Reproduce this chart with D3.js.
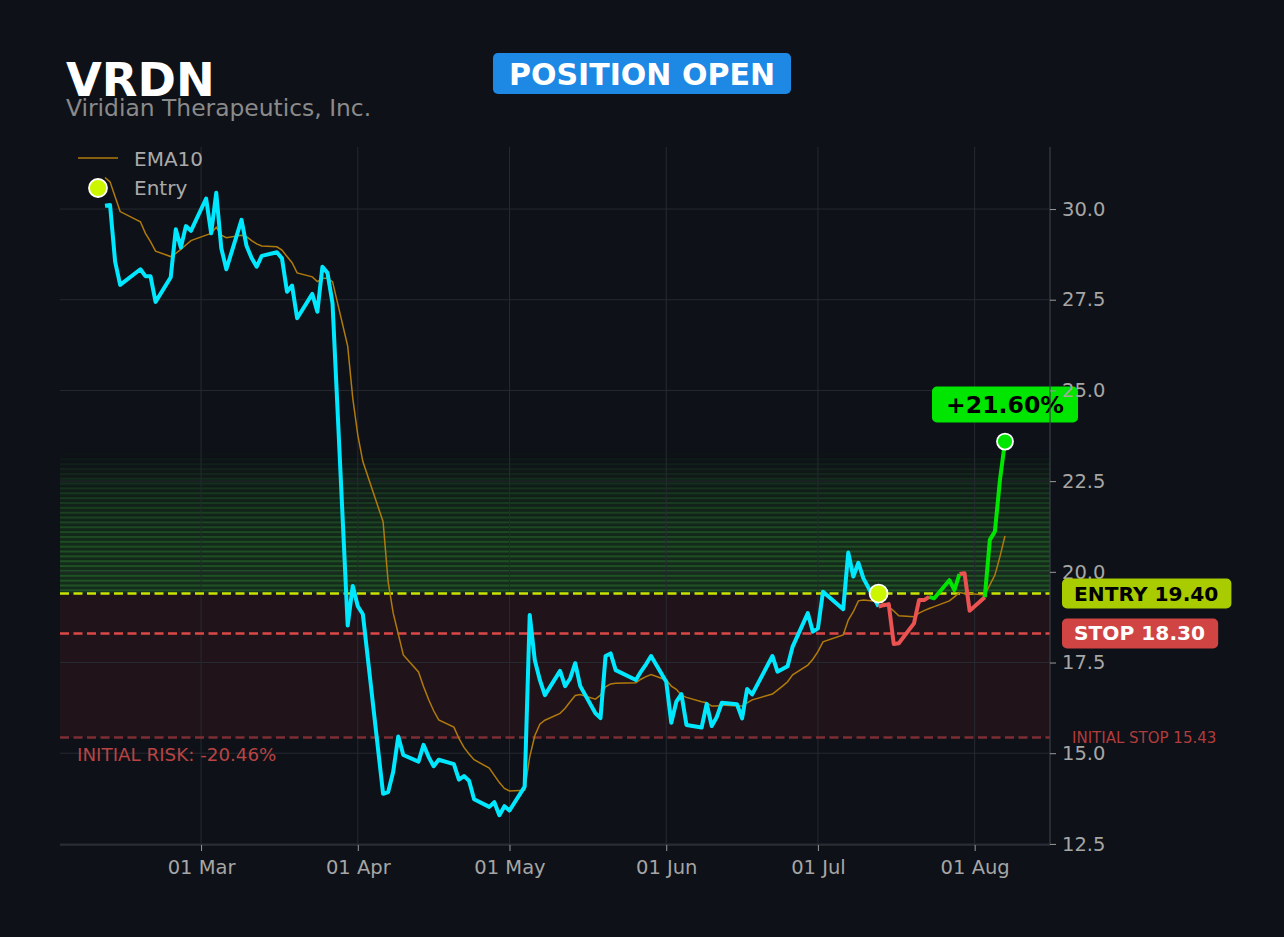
<!DOCTYPE html>
<html lang="en">
<head>
<meta charset="utf-8">
<title>VRDN - Position</title>
<script src="https://cdn.jsdelivr.net/npm/d3@7"></script>
<style>
  body { margin: 0; background: #0e1117; }
  svg { display: block; font-family: "DejaVu Sans", sans-serif; }
</style>
</head>
<body>
<script>
// ---- data ----
var ticker = "VRDN";
var company = "Viridian Therapeutics, Inc.";
var status = "POSITION OPEN";

var dates = [
  "2026-02-10","2026-02-11","2026-02-12","2026-02-13","2026-02-17","2026-02-18","2026-02-19","2026-02-20",
  "2026-02-23","2026-02-24","2026-02-25","2026-02-26","2026-02-27",
  "2026-03-02","2026-03-03","2026-03-04","2026-03-05","2026-03-06",
  "2026-03-09","2026-03-10","2026-03-11","2026-03-12","2026-03-13",
  "2026-03-16","2026-03-17","2026-03-18","2026-03-19","2026-03-20",
  "2026-03-23","2026-03-24","2026-03-25","2026-03-26","2026-03-27",
  "2026-03-30","2026-03-31","2026-04-01","2026-04-02",
  "2026-04-06","2026-04-07","2026-04-08","2026-04-09","2026-04-10",
  "2026-04-13","2026-04-14","2026-04-15","2026-04-16","2026-04-17",
  "2026-04-20","2026-04-21","2026-04-22","2026-04-23","2026-04-24",
  "2026-04-27","2026-04-28","2026-04-29","2026-04-30","2026-05-01",
  "2026-05-04","2026-05-05","2026-05-06","2026-05-07","2026-05-08",
  "2026-05-11","2026-05-12","2026-05-13","2026-05-14","2026-05-15",
  "2026-05-18","2026-05-19","2026-05-20","2026-05-21","2026-05-22",
  "2026-05-26","2026-05-27","2026-05-28","2026-05-29",
  "2026-06-01","2026-06-02","2026-06-03","2026-06-04","2026-06-05",
  "2026-06-08","2026-06-09","2026-06-10","2026-06-11","2026-06-12",
  "2026-06-15","2026-06-16","2026-06-17","2026-06-18",
  "2026-06-22","2026-06-23","2026-06-24","2026-06-25","2026-06-26",
  "2026-06-29","2026-06-30","2026-07-01","2026-07-02",
  "2026-07-06","2026-07-07","2026-07-08","2026-07-09","2026-07-10",
  "2026-07-13","2026-07-14","2026-07-15","2026-07-16","2026-07-17",
  "2026-07-20","2026-07-21","2026-07-22","2026-07-23","2026-07-24",
  "2026-07-27","2026-07-28","2026-07-29","2026-07-30","2026-07-31",
  "2026-08-03","2026-08-04","2026-08-05","2026-08-06","2026-08-07"
];

var closes = [
  30.09,30.11,28.55,27.91,28.34,28.15,28.15,27.44,
  28.12,29.44,28.94,29.53,29.40,
  30.29,29.33,30.45,28.92,28.34,
  29.70,28.98,28.65,28.41,28.71,
  28.81,28.64,27.72,27.89,26.99,
  27.66,27.17,28.41,28.24,27.40,
  18.52,19.61,19.05,18.83,
  13.88,13.93,14.49,15.46,14.95,
  14.77,15.23,14.90,14.64,14.82,
  14.70,14.27,14.37,14.24,13.73,
  13.52,13.65,13.29,13.54,13.42,
  14.08,18.81,17.57,17.02,16.60,
  17.27,16.85,17.06,17.48,16.85,
  16.10,15.97,17.68,17.75,17.29,
  17.02,17.25,17.45,17.68,
  16.97,15.84,16.42,16.63,15.78,
  15.71,16.36,15.75,16.00,16.39,
  16.35,15.96,16.77,16.62,
  17.68,17.25,17.32,17.40,17.94,
  18.86,18.35,18.44,19.45,
  18.97,20.53,19.87,20.25,19.82,
  19.04,19.08,19.11,18.01,18.03,
  18.58,19.22,19.22,19.31,19.27,
  19.77,19.50,19.94,19.96,18.93,
  19.30,20.88,21.11,22.53,23.59
];

var ema10 = [
  30.87,30.75,30.34,29.93,29.65,29.33,29.10,28.84,
  28.69,28.78,28.89,29.01,29.13,
  29.28,29.33,29.50,29.28,29.21,
  29.28,29.24,29.13,29.04,28.98,
  28.96,28.87,28.69,28.52,28.24,
  28.13,28.00,28.09,28.09,28.00,
  26.22,24.79,23.77,23.04,
  21.38,19.72,18.86,18.29,17.71,
  17.24,16.84,16.48,16.17,15.92,
  15.72,15.41,15.16,14.98,14.82,
  14.59,14.39,14.19,14.03,13.96,
  13.98,14.90,15.48,15.80,15.91,
  16.10,16.24,16.42,16.59,16.62,
  16.49,16.60,16.83,16.91,16.93,
  16.94,17.04,17.11,17.17,
  17.02,16.85,16.76,16.60,16.54,
  16.42,16.39,16.30,16.30,16.33,
  16.30,16.30,16.39,16.47,
  16.63,16.74,16.85,16.97,17.16,
  17.43,17.59,17.80,18.07,
  18.26,18.67,18.90,19.20,19.22,
  19.18,19.13,19.04,18.92,18.79,
  18.76,18.86,18.93,18.99,19.04,
  19.20,19.31,19.43,19.40,19.40,
  19.36,19.64,19.91,20.42,20.99
];

// trade segment colours after entry, one per day (segment ending on that day)
var tradeDates  = ["2026-07-14","2026-07-15","2026-07-16","2026-07-17","2026-07-20","2026-07-21","2026-07-22","2026-07-23","2026-07-24",
                   "2026-07-27","2026-07-28","2026-07-29","2026-07-30","2026-07-31","2026-08-03","2026-08-04","2026-08-05","2026-08-06","2026-08-07"];
var tradeStates = ["down","down","down","down","down","down","down","down","up",
                   "up","up","up","down","down","down","up","up","up","up"];

var entryDate = "2026-07-13";
var entryPrice = 19.40;
var stopPrice = 18.30;
var initialStop = 15.43;
var targetZoneTop = 23.28;
var gainLabel = "+21.60%";
var riskLabel = "INITIAL RISK: -20.46%";

var yTicks = [12.5, 15, 17.5, 20, 22.5, 25, 27.5, 30];
var xTicks = ["2026-03-01","2026-04-01","2026-05-01","2026-06-01","2026-07-01","2026-08-01"];

// ---- layout ----
var W = 1284, H = 937;
var margin = { top: 147, right: 234, bottom: 92, left: 60 };
var width = W - margin.left - margin.right,
    height = H - margin.top - margin.bottom;

var parse = d3.utcParse("%Y-%m-%d");
var fmt = d3.utcFormat("%d %b");

var series = dates.map(function(d, i) {
  return { date: parse(d), close: closes[i], ema: ema10[i] };
});

var ext = d3.extent(series, function(d) { return d.date; });
var pad = (ext[1] - ext[0]) * 0.05;

var x = d3.scaleUtc()
  .domain([new Date(+ext[0] - pad), new Date(+ext[1] + pad)])
  .range([0, width]);

var y = d3.scaleLinear()
  .domain([12.47, 31.71])
  .range([height, 0]);

var svg = d3.select("body").append("svg")
  .attr("width", W).attr("height", H);

svg.append("rect").attr("width", W).attr("height", H).attr("fill", "#0e1117");

var g = svg.append("g")
  .attr("transform", "translate(" + margin.left + "," + margin.top + ")");

// zones
g.append("rect")
  .attr("x", 0).attr("width", width)
  .attr("y", y(entryPrice)).attr("height", y(initialStop) - y(entryPrice))
  .attr("fill", "rgb(200,50,60)").attr("fill-opacity", 0.1);

// striped green zone above entry, fading upward
var nBands = 29;
var bandH = (y(entryPrice) - y(targetZoneTop)) / nBands;
d3.range(nBands).forEach(function(i) {
  var t = i / nBands;
  var f = 1 - t * t;
  var top = y(entryPrice) - (i + 1) * bandH;
  g.append("rect")
    .attr("x", 0).attr("width", width)
    .attr("y", top).attr("height", bandH)
    .attr("fill", "rgb(50,160,50)").attr("fill-opacity", 0.2 * f);
  g.append("rect")
    .attr("x", 0).attr("width", width)
    .attr("y", top + 0.6).attr("height", 2)
    .attr("fill", "rgb(60,170,60)").attr("fill-opacity", 0.3 * f);
});

// grid
g.append("g").selectAll("line").data(yTicks).enter().append("line")
  .attr("x1", 0).attr("x2", width)
  .attr("y1", function(d) { return y(d); }).attr("y2", function(d) { return y(d); })
  .attr("stroke", "#262a31").attr("stroke-width", 1);
g.append("g").selectAll("line").data(xTicks).enter().append("line")
  .attr("y1", 0).attr("y2", height)
  .attr("x1", function(d) { return x(parse(d)); }).attr("x2", function(d) { return x(parse(d)); })
  .attr("stroke", "#262a31").attr("stroke-width", 1);

// level lines
function hline(v, color, dash) {
  g.append("line")
    .attr("x1", 0).attr("x2", width)
    .attr("y1", y(v)).attr("y2", y(v))
    .attr("stroke", color).attr("stroke-width", 2.5)
    .attr("stroke-dasharray", dash);
}
hline(initialStop, "#7e2e33", "9,4.5");
hline(stopPrice, "#dc4848", "9,4.5");
hline(entryPrice, "#c8e400", "9,4.5");

// EMA
var line = d3.line()
  .x(function(d) { return x(d.date); });

g.append("path")
  .datum(series)
  .attr("fill", "none")
  .attr("stroke", "#b07a0c")
  .attr("stroke-width", 1.5)
  .attr("d", line.y(function(d) { return y(d.ema); }));

// price before entry
var entryT = parse(entryDate);
var before = series.filter(function(d) { return d.date <= entryT; });
g.append("path")
  .datum(before)
  .attr("fill", "none")
  .attr("stroke", "#00e8ff")
  .attr("stroke-width", 4)
  .attr("stroke-linejoin", "round")
  .attr("d", line.y(function(d) { return y(d.close); }));

// price after entry, coloured runs
var stateColor = { up: "#00e600", down: "#eb5252" };
var byDate = {};
series.forEach(function(d, i) { byDate[dates[i]] = i; });
var runs = [];
tradeDates.forEach(function(td, k) {
  var i = byDate[td];
  var st = tradeStates[k];
  var last = runs[runs.length - 1];
  if (!last || last.state !== st) {
    runs.push({ state: st, pts: [series[i - 1], series[i]] });
  } else {
    last.pts.push(series[i]);
  }
});
runs.forEach(function(r) {
  g.append("path")
    .datum(r.pts)
    .attr("fill", "none")
    .attr("stroke", stateColor[r.state])
    .attr("stroke-width", 4)
    .attr("stroke-linejoin", "round")
    .attr("d", line.y(function(d) { return y(d.close); }));
});

// entry marker
g.append("circle")
  .attr("cx", x(entryT)).attr("cy", y(entryPrice)).attr("r", 9)
  .attr("fill", "#ccf500").attr("stroke", "#fff").attr("stroke-width", 1.8);

// current marker + gain label
var lastPt = series[series.length - 1];
g.append("circle")
  .attr("cx", x(lastPt.date)).attr("cy", y(lastPt.close)).attr("r", 8)
  .attr("fill", "#00e600").attr("stroke", "#fff").attr("stroke-width", 1.8);

var gainG = g.append("g");
var gainText = gainG.append("text")
  .attr("x", x(lastPt.date)).attr("y", y(lastPt.close) - 37)
  .attr("text-anchor", "middle").attr("dominant-baseline", "central")
  .attr("font-size", "23.6px").attr("font-weight", "bold")
  .attr("fill", "#000").text(gainLabel);
var gb = gainText.node().getBBox();
gainG.insert("rect", "text")
  .attr("x", gb.x - 14).attr("y", y(lastPt.close) - 37 - 18)
  .attr("width", gb.width + 28).attr("height", 36)
  .attr("rx", 5).attr("fill", "#00e600");

// spines
g.append("line").attr("x1", width).attr("x2", width).attr("y1", 0).attr("y2", height)
  .attr("stroke", "#3a3e46").attr("stroke-width", 1.2);
g.append("line").attr("x1", 0).attr("x2", width).attr("y1", height).attr("y2", height)
  .attr("stroke", "#3a3e46").attr("stroke-width", 1.2);

// y axis (right)
var yAxis = g.append("g").attr("transform", "translate(" + width + ",0)")
  .call(d3.axisRight(y).tickValues(yTicks).tickFormat(d3.format(".1f")).tickSize(6).tickPadding(6));
yAxis.select(".domain").remove();
yAxis.selectAll("line").attr("stroke", "#9a9a9a");
yAxis.selectAll("text").attr("fill", "#a6a6a6").attr("font-size", "19.5px")
  .attr("font-family", "DejaVu Sans");

// x axis
var xAxis = g.append("g").attr("transform", "translate(0," + height + ")")
  .call(d3.axisBottom(x).tickValues(xTicks.map(parse)).tickFormat(fmt).tickSize(6).tickPadding(9));
xAxis.select(".domain").remove();
xAxis.selectAll("line").attr("stroke", "#9a9a9a");
xAxis.selectAll("text").attr("fill", "#a6a6a6").attr("font-size", "19.5px")
  .attr("font-family", "DejaVu Sans");

// right-side level labels
function levelTag(v, label, bg, fg) {
  var tg = g.append("g");
  var t = tg.append("text")
    .attr("x", width + 24).attr("y", y(v))
    .attr("dominant-baseline", "central")
    .attr("font-size", "20.2px").attr("font-weight", "bold")
    .attr("fill", fg).text(label);
  var b = t.node().getBBox();
  tg.insert("rect", "text")
    .attr("x", width + 12).attr("y", y(v) - 15)
    .attr("width", b.width + 25).attr("height", 30)
    .attr("rx", 5).attr("fill", bg);
}
levelTag(entryPrice, "ENTRY " + entryPrice.toFixed(2), "#a8cc00", "#000");
levelTag(stopPrice, "STOP " + stopPrice.toFixed(2), "#d04444", "#fff");

g.append("text")
  .attr("x", width + 22).attr("y", y(initialStop))
  .attr("dominant-baseline", "central")
  .attr("font-size", "15px").attr("fill", "#b23c3c")
  .text("INITIAL STOP " + initialStop.toFixed(2));

g.append("text")
  .attr("x", 17).attr("y", y(initialStop) + 17)
  .attr("dominant-baseline", "central")
  .attr("font-size", "18.3px").attr("fill", "#b84444")
  .text(riskLabel);

// legend
var leg = g.append("g");
leg.append("line").attr("x1", 18).attr("x2", 58).attr("y1", 11).attr("y2", 11)
  .attr("stroke", "#b07a0c").attr("stroke-width", 1.5);
leg.append("text").attr("x", 74).attr("y", 12).attr("dominant-baseline", "central")
  .attr("font-size", "20px").attr("fill", "#aaaaaa").text("EMA10");
leg.append("circle").attr("cx", 38).attr("cy", 41).attr("r", 9)
  .attr("fill", "#ccf500").attr("stroke", "#fff").attr("stroke-width", 1.8);
leg.append("text").attr("x", 74).attr("y", 41).attr("dominant-baseline", "central")
  .attr("font-size", "20px").attr("fill", "#aaaaaa").text("Entry");

// titles
svg.append("text").attr("x", 66).attr("y", 96)
  .attr("font-size", "46.3px").attr("font-weight", "bold").attr("fill", "#ffffff")
  .text(ticker);
svg.append("text").attr("x", 66).attr("y", 116)
  .attr("font-size", "23.4px").attr("fill", "#8a8a8a")
  .text(company);

var sg = svg.append("g");
var st = sg.append("text").attr("x", 642).attr("y", 74)
  .attr("text-anchor", "middle").attr("dominant-baseline", "central")
  .attr("font-size", "30px").attr("font-weight", "bold").attr("fill", "#ffffff")
  .text(status);
var sb = st.node().getBBox();
sg.insert("rect", "text")
  .attr("x", sb.x - 16).attr("y", 53)
  .attr("width", sb.width + 32).attr("height", 41)
  .attr("rx", 5).attr("fill", "#1e88e5");
</script>
</body>
</html>
